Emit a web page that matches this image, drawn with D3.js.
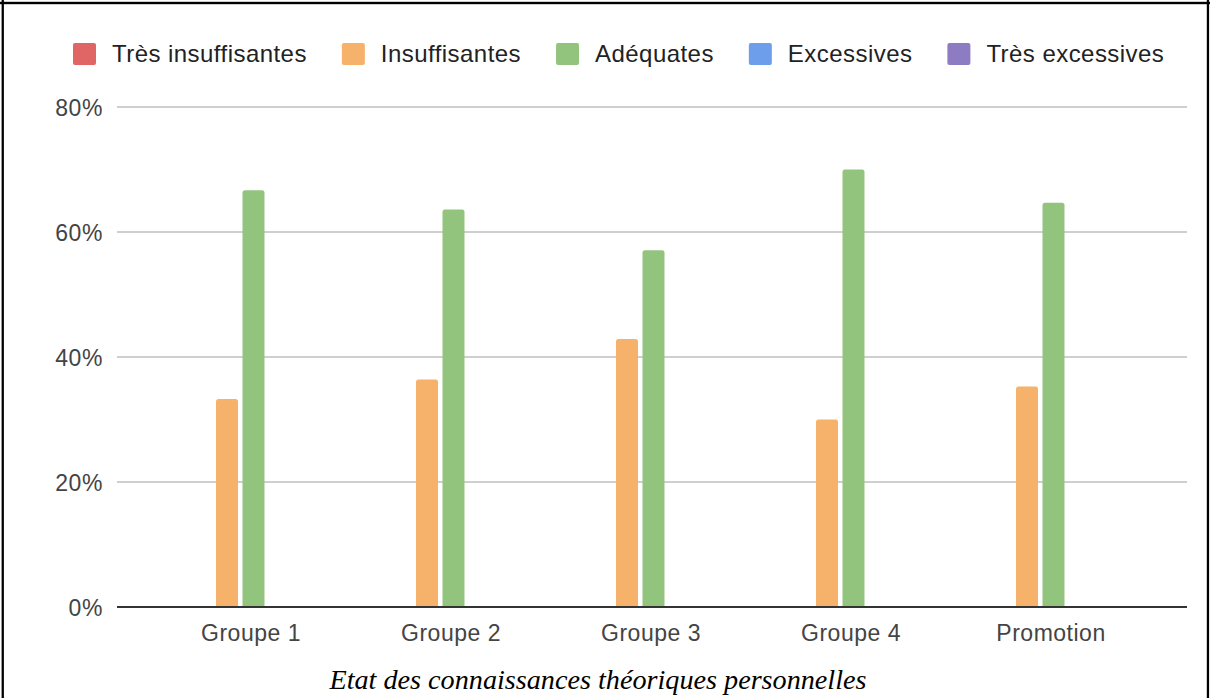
<!DOCTYPE html>
<html>
<head>
<meta charset="utf-8">
<script src="https://cdn.jsdelivr.net/npm/d3@7"></script>
<style>
  html, body { margin: 0; padding: 0; background: #fff; }
  svg { display: block; }
</style>
</head>
<body>
<svg id="chart" width="1210" height="698"></svg>
<script>
const categories = ["Groupe 1", "Groupe 2", "Groupe 3", "Groupe 4", "Promotion"];
const seriesNames = ["Très insuffisantes", "Insuffisantes", "Adéquates", "Excessives", "Très excessives"];
const seriesColors = ["#e06666", "#f6b26b", "#93c47d", "#6d9eeb", "#8e7cc3"];
const tresInsuffisantes = [0, 0, 0, 0, 0];
const insuffisantes = [33.3, 36.4, 42.9, 30.0, 35.3];
const adequates = [66.7, 63.6, 57.1, 70.0, 64.7];
const excessives = [0, 0, 0, 0, 0];
const tresExcessives = [0, 0, 0, 0, 0];
const yTicks = [0, 20, 40, 60, 80];
const caption = "Etat des connaissances théoriques personnelles";

const seriesValues = [tresInsuffisantes, insuffisantes, adequates, excessives, tresExcessives];

const W = 1210, H = 698;
const svg = d3.select("#chart");

// frame borders
svg.append("rect").attr("x", 0).attr("y", 1.8).attr("width", W).attr("height", 2.4).attr("fill", "#000");
svg.append("rect").attr("x", 1.6).attr("y", 0).attr("width", 2.3).attr("height", H).attr("fill", "#000");
svg.append("rect").attr("x", 1206.8).attr("y", 0).attr("width", 2.3).attr("height", H).attr("fill", "#000");

const plot = { left: 117, right: 1187, top: 107, bottom: 607 };

const y = d3.scaleLinear().domain([0, 80]).range([plot.bottom, plot.top]);
const x = d3.scaleBand().domain(categories).range([153.5, 1153.5]).paddingInner(0).paddingOuter(0);
const pad = 4.5 / 26.5;
const xs = d3.scaleBand().domain(seriesNames).range([0, 132.5]).paddingInner(pad).paddingOuter(pad / 2);

// gridlines
const grid = svg.append("g");
grid.selectAll("line").data(yTicks.filter(d => d !== 0)).enter().append("line")
  .attr("x1", plot.left).attr("x2", plot.right)
  .attr("y1", d => y(d)).attr("y2", d => y(d))
  .attr("stroke", "#cfcfcf").attr("stroke-width", 1.8);

// y axis labels via d3 axis
const yAxis = d3.axisLeft(y).tickValues(yTicks).tickFormat(d => d + "%").tickSize(0).tickPadding(0);
const yg = svg.append("g").attr("transform", `translate(103,0)`).call(yAxis);
yg.select(".domain").remove();
yg.selectAll("text")
  .attr("font-family", "Liberation Sans, Arial, sans-serif")
  .attr("font-size", 23).attr("letter-spacing", 0.6).attr("fill", "#444").attr("dy", "0.35em");

// bars
const barGroups = svg.append("g");
function topRoundedPath(x0, y0, w, h, r) {
  if (h <= 0) return "";
  r = Math.min(r, h, w / 2);
  return `M${x0},${y0 + h} L${x0},${y0 + r} Q${x0},${y0} ${x0 + r},${y0} L${x0 + w - r},${y0} Q${x0 + w},${y0} ${x0 + w},${y0 + r} L${x0 + w},${y0 + h} Z`;
}
categories.forEach((c, ci) => {
  const center = x(c) + x.bandwidth() / 2;
  seriesNames.forEach((s, si) => {
    const v = seriesValues[si][ci];
    const bx = center - 66.25 + xs(s);
    const by = y(v);
    const bh = y(0) - by;
    if (bh > 0) {
      barGroups.append("path")
        .attr("d", topRoundedPath(bx, by, xs.bandwidth(), bh, 2.5))
        .attr("fill", seriesColors[si]);
    }
  });
});

// baseline
svg.append("line").attr("x1", plot.left).attr("x2", plot.right)
  .attr("y1", y(0)).attr("y2", y(0)).attr("stroke", "#333").attr("stroke-width", 2);

// x axis labels
const xAxis = d3.axisBottom(x).tickSize(0).tickPadding(0);
const xg = svg.append("g").attr("transform", `translate(-2.5,641)`).call(xAxis);
xg.select(".domain").remove();
xg.selectAll("text")
  .attr("font-family", "Liberation Sans, Arial, sans-serif")
  .attr("font-size", 23).attr("letter-spacing", 0.5).attr("fill", "#444").attr("dy", 0).attr("y", 0);

// legend
const legend = svg.append("g");
const legendFont = 24;
let lx = 73;
seriesNames.forEach((s, i) => {
  legend.append("rect").attr("x", lx).attr("y", 43).attr("width", 23).attr("height", 22)
    .attr("rx", 2).attr("fill", seriesColors[i]);
  const t = legend.append("text").attr("x", lx + 23 + 16).attr("y", 62)
    .attr("font-family", "Liberation Sans, Arial, sans-serif")
    .attr("font-size", legendFont).attr("letter-spacing", 0.45).attr("fill", "#222").text(s);
  lx = lx + 23 + 16 + t.node().getComputedTextLength() + 35;
});

// caption
svg.append("text").attr("x", 598).attr("y", 689).attr("text-anchor", "middle")
  .attr("font-family", "Liberation Serif, Times New Roman, serif")
  .attr("font-style", "italic").attr("font-size", 28.2).attr("fill", "#000").text(caption);
</script>
</body>
</html>
